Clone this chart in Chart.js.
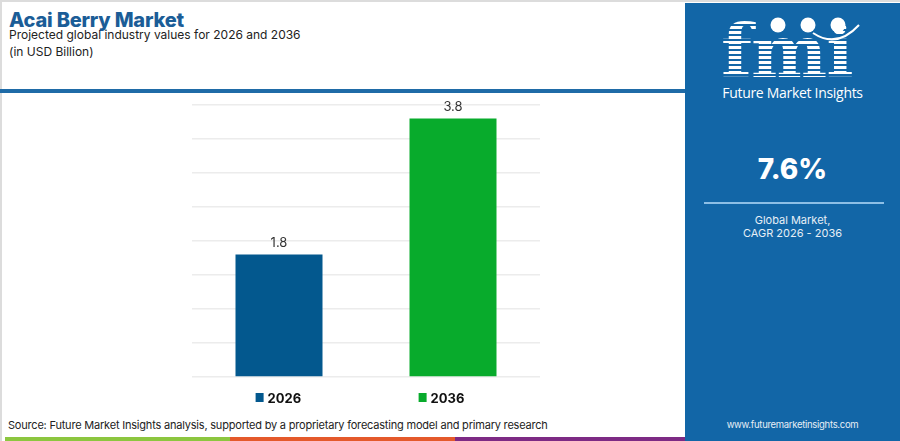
<!DOCTYPE html>
<html lang="en">
<head>
<meta charset="UTF-8">
<title>Acai Berry Market</title>
<script src="https://cdn.jsdelivr.net/npm/chart.js"></script>
<style>
  html, body { margin: 0; padding: 0; }
  body { width: 900px; height: 441px; position: relative; overflow: hidden; background: #fff; font-family: Inter, "Open Sans", sans-serif; }
  .frame { position: absolute; left: 0; top: 0; width: 900px; height: 441px; box-sizing: border-box; border-left: 2px solid #dcdcdc; border-top: 2px solid #dcdcdc; }
  .titulo { position: absolute; left: 9px; top: 8px; margin: 0; font-size: 20px; font-weight: 800; color: #1b5d97; letter-spacing: -0.2px; }
  .sub { position: absolute; left: 9px; top: 26px; font-size: 12px; line-height: 17px; color: #222; }
  .linha { position: absolute; left: 0; top: 89px; width: 685px; height: 4px; background: #1f6ba7; }
  #box { position: absolute; left: 182px; top: 85px; width: 368px; height: 330px; }
  .fonte { position: absolute; left: 8px; top: 418px; font-size: 11px; color: #222; letter-spacing: -0.2px; }
  .faixa { position: absolute; top: 437px; height: 4px; }
  .painel { position: absolute; left: 685px; top: 3px; width: 215px; height: 438px; background: #1266a7; color: #fff; text-align: center; }
  .logo { position: absolute; left: 36px; top: 13px; font-family: "DejaVu Serif", serif; font-weight: bold; font-size: 72px; line-height: 72px; letter-spacing: -1px;
          background: repeating-linear-gradient(to bottom, #fff 0 3px, transparent 3px 5px); -webkit-background-clip: text; background-clip: text; color: transparent; }
  .circ { position: absolute; top: 12px; left: 0; }
  .fmi-nome { position: absolute; left: 0; width: 215px; top: 80px; font-size: 14px; font-family: "Open Sans", sans-serif; letter-spacing: -0.3px; }
  .cagr { position: absolute; left: 0; width: 215px; top: 149px; font-size: 28px; font-weight: 800; }
  .sep { position: absolute; left: 19px; top: 199px; width: 180px; height: 2px; background: #8dbfe6; }
  .glob { position: absolute; left: 0; width: 215px; top: 211px; font-size: 11px; line-height: 13px; color: #e6eef6; }
  .url { position: absolute; left: 0; width: 215px; top: 416px; font-size: 9.5px; color: #e6eef6; letter-spacing: -0.3px; }
</style>
</head>
<body>
<div class="frame"></div>
<h1 class="titulo">Acai Berry Market</h1>
<div class="sub">Projected global industry values for 2026 and 2036<br>(in USD Billion)</div>
<div class="linha"></div>
<div id="box"><canvas id="grafico"></canvas></div>
<div class="fonte">Source: Future Market Insights analysis, supported by a proprietary forecasting model and primary research</div>
<div class="faixa" style="left:5px;width:225px;background:#8cc63f;"></div>
<div class="faixa" style="left:230px;width:225px;background:#e4592b;"></div>
<div class="faixa" style="left:455px;width:230px;background:#7d2a84;"></div>

<div class="painel">
  <div class="logo">fmi</div>
  <svg class="circ" width="215" height="40">
    <circle cx="93" cy="10" r="7.5" fill="#fff"/>
    <circle cx="123" cy="10" r="7.5" fill="#fff"/>
    <circle cx="153" cy="10" r="7.5" fill="#fff"/>
    <path d="M 128 18 Q 152 34 174 10" stroke="#fff" stroke-width="2" fill="none"/>
  </svg>
  <div class="fmi-nome">Future Market Insights</div>
  <div class="cagr">7.6%</div>
  <div class="sep"></div>
  <div class="glob">Global Market,<br>CAGR 2026 - 2036</div>
  <div class="url">www.futuremarketinsights.com</div>
</div>

<script>
// dados do grafico
const anos = ['2026', '2036'];
const valores = [1.8, 3.8];
const cores = ['#03588e', '#08ab2c'];
const eixoMax = 4;
const passo = 0.5;

// rotulos de valor acima das barras
const rotulosValor = {
  id: 'rotulosValor',
  afterDatasetsDraw(chart) {
    const ctx = chart.ctx;
    const meta = chart.getDatasetMeta(0);
    ctx.save();
    ctx.fillStyle = '#333';
    ctx.font = '13px Inter, sans-serif';
    ctx.textAlign = 'center';
    ctx.textBaseline = 'bottom';
    meta.data.forEach((barra, i) => {
      ctx.fillText(String(valores[i]), barra.x, barra.y - 5);
    });
    ctx.restore();
  }
};

// legenda desenhada embaixo do grafico
const legenda = {
  id: 'legenda',
  afterDraw(chart) {
    const ctx = chart.ctx;
    const area = chart.chartArea;
    const caixa = 8, folga = 4, passoItem = 163;
    ctx.save();
    ctx.font = 'bold 13px Inter, sans-serif';
    ctx.textBaseline = 'middle';
    const ultima = caixa + folga + ctx.measureText(anos[anos.length - 1]).width;
    const total = passoItem * (anos.length - 1) + ultima;
    let x = (area.left + area.right) / 2 - 6 - total / 2;
    const y = area.bottom + 21;
    anos.forEach((a, i) => {
      ctx.fillStyle = cores[i];
      ctx.fillRect(x, y - caixa / 2 - 1, caixa, caixa + 1);
      ctx.fillStyle = '#111';
      ctx.textAlign = 'left';
      ctx.fillText(a, x + caixa + folga, y + 1);
      x += passoItem;
    });
    ctx.restore();
  }
};

const ctx = document.getElementById('grafico').getContext('2d');
new Chart(ctx, {
  type: 'bar',
  data: {
    labels: anos,
    datasets: [{
      data: valores,
      backgroundColor: cores,
      borderWidth: 0,
      barPercentage: 0.5,
      categoryPercentage: 1
    }]
  },
  options: {
    responsive: true,
    maintainAspectRatio: false,
    animation: false,
    layout: { padding: { left: 10, right: 10, top: 20, bottom: 38 } },
    plugins: {
      legend: { display: false },
      tooltip: { enabled: false }
    },
    scales: {
      x: {
        ticks: { display: false },
        grid: { display: false, drawTicks: false },
        border: { display: false }
      },
      y: {
        min: 0,
        max: eixoMax,
        ticks: { display: false, stepSize: passo },
        grid: { color: '#ececec', lineWidth: 1.5, drawTicks: false },
        border: { display: false }
      }
    }
  },
  plugins: [rotulosValor, legenda]
});
</script>
</body>
</html>
